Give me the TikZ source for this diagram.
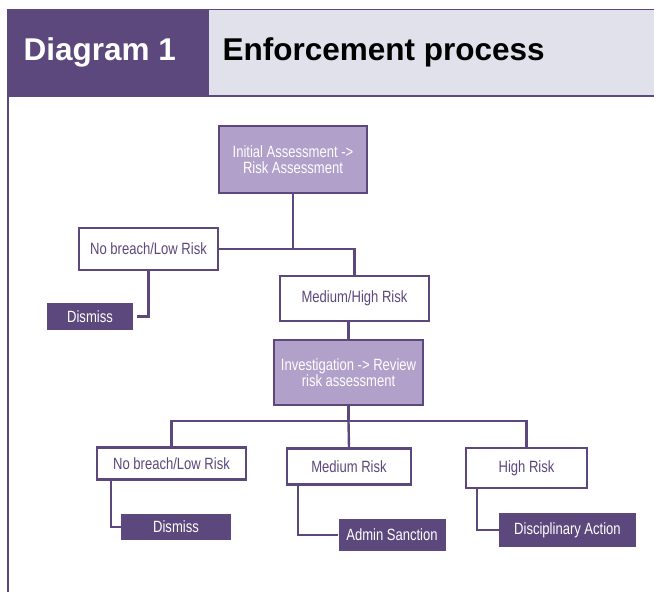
\documentclass[tikz,border=0pt]{standalone}
\usepackage{fontspec}
\setmainfont{Liberation Sans}
\newfontfamily\boxfont[FakeStretch=0.8]{Liberation Sans}
\usetikzlibrary{calc}
\definecolor{darkpurple}{RGB}{92,72,124}
\definecolor{lightpurple}{RGB}{177,160,201}
\definecolor{headgrey}{RGB}{225,225,236}
\tikzset{
  whitebox/.style={draw=darkpurple, line width=2.4pt, fill=white, text=darkpurple, align=center,
    inner sep=0pt, font=\boxfont\fontsize{16.3}{15.5}\selectfont},
  lilacbox/.style={whitebox, fill=lightpurple, text=white},
  endbox/.style={fill=darkpurple, text=white, inner sep=0pt, font=\boxfont\fontsize{16.3}{15.5}\selectfont},
  link/.style={draw=darkpurple, line width=2.4pt}
}
\begin{document}
\begin{tikzpicture}[x=1pt,y=-1pt]
\useasboundingbox (0,0) rectangle (654,592);
\fill[darkpurple] (8,9) rectangle (209,96);
\fill[headgrey] (209,9) rectangle (654,96);
\draw[darkpurple, line width=1.5pt] (209,9.5) -- (654,9.5);
\draw[darkpurple, line width=2pt] (8,96) -- (654,96);
\draw[darkpurple, line width=2pt] (8,9) -- (8,592);
\node[anchor=west, text=white, font=\bfseries\fontsize{31.5}{31.5}\selectfont] (title) at (20,52) {Diagram 1};
\node[anchor=west, text=black, font=\bfseries\fontsize{31.5}{31.5}\selectfont] (caption) at (219,52) {Enforcement process};

\node[lilacbox, minimum width=148pt, minimum height=67pt] (init) at (293,159.5) {Initial Assessment ->\\Risk Assessment};
\node[whitebox, minimum width=139pt, minimum height=42pt] (nolow) at (148.5,249) {No breach/Low Risk};
\node[endbox, minimum width=86pt, minimum height=27pt] (dismiss) at (90,316.5) {Dismiss};
\node[whitebox, minimum width=149pt, minimum height=45pt] (medhigh) at (354.5,298.5) {Medium/High Risk};
\node[lilacbox, minimum width=149pt, minimum height=65pt] (invest) at (348.5,372.5) {Investigation -> Review\\risk assessment};
\node[whitebox, minimum width=149pt, minimum height=32pt] (nolowb) at (171.5,463.5) {No breach/Low Risk};
\node[whitebox, minimum width=124pt, minimum height=36pt] (medium) at (349,466.5) {Medium Risk};
\node[whitebox, minimum width=121pt, minimum height=40pt] (high) at (526.5,468) {High Risk};
\node[endbox, minimum width=110pt, minimum height=26pt] (dismissb) at (176,527) {Dismiss};
\node[endbox, minimum width=107pt, minimum height=32pt] (admin) at (392,535) {Admin Sanction};
\node[endbox, minimum width=137pt, minimum height=34pt] (disc) at (567.5,530) {Disciplinary Action};

\draw[link] (init.south) -- (init.south |- nolow.east);
\draw[link] (nolow.east) -| (medhigh.north);
\draw[link] (nolow.south) |- ([xshift=4pt]dismiss.east);
\draw[link] (invest.north |- medhigh.south) -- (invest.north);
\draw[link] (invest.south) -- ++(0,15) coordinate (split);
\draw[link] (nolowb.north) |- (split) -| (high.north);
\draw[link] (split) -- (medium.north);
\draw[link] ([xshift=15pt]nolowb.south west) |- (dismissb.west);
\draw[link] ([xshift=12pt]medium.south west) |- (admin.west);
\draw[link] ([xshift=12pt]high.south west) |- (disc.west);
\end{tikzpicture}
\end{document}
